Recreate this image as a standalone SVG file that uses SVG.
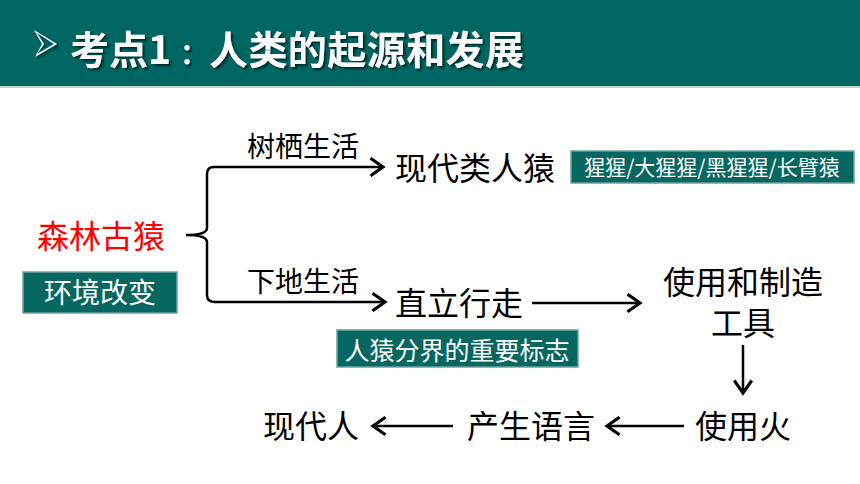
<svg xmlns="http://www.w3.org/2000/svg" width="860" height="484" viewBox="0 0 860 484">
<defs>
<style>
.t{font-family:"Noto Sans CJK SC","Liberation Sans",sans-serif;fill:#000}
.big{font-size:32px}
.lab{font-size:28px}
.w{fill:#fff}
.box{fill:#05675F;stroke:#6FA39E;stroke-width:1.5}
.ln{fill:none;stroke:#000;stroke-width:2.5}
</style>
<marker id="ah" markerUnits="userSpaceOnUse" markerWidth="20" markerHeight="20" viewBox="-12 -8 14 16" refX="0" refY="0" orient="auto">
<polyline points="-10,-7 0,0 -10,7" fill="none" stroke="#000" stroke-width="2.5" stroke-linejoin="miter"/>
</marker>
<filter id="sh" x="-5%" y="-20%" width="110%" height="140%">
<feDropShadow dx="2" dy="2" stdDeviation="0.8" flood-color="#000" flood-opacity="0.6"/>
</filter>
</defs>
<rect width="860" height="484" fill="#fff"/>
<g id="header">
<rect x="0" y="0" width="860" height="86" fill="#006662"/>
<line x1="0" y1="87" x2="860" y2="87" stroke="#A9C4C2" stroke-width="1.5"/>
<g filter="url(#sh)">
<path d="M34,30 L57,44 L35,57 L42,44 Z M37,33 L44,44 L37,54 L54,44 Z" fill="#fff" fill-rule="evenodd"/>
<text class="t w" y="64" font-size="39" font-weight="700"><tspan x="70">考点1</tspan><tspan x="180" font-size="28">：</tspan><tspan x="209" textLength="315" lengthAdjust="spacing">人类的起源和发展</tspan></text>
</g>
</g>
<g id="connectors">
<path class="ln" d="M214,167 Q207,167 207,174 L207,228 Q207,235 186,235 Q207,235 207,242 L207,295 Q207,302 215,302"/>
<line class="ln" x1="213" y1="167" x2="383" y2="167" marker-end="url(#ah)"/>
<line class="ln" x1="214" y1="302" x2="385" y2="302" marker-end="url(#ah)"/>
<line class="ln" x1="532" y1="303" x2="640" y2="303" marker-end="url(#ah)"/>
<line class="ln" x1="743" y1="345" x2="743" y2="393" marker-end="url(#ah)"/>
<line class="ln" x1="684" y1="426" x2="607" y2="426" marker-end="url(#ah)"/>
<line class="ln" x1="453" y1="426" x2="373" y2="426" marker-end="url(#ah)"/>
</g>
<g id="label-shuqi"><text class="t lab" x="247" y="157">树栖生活</text></g>
<g id="label-xiadi"><text class="t lab" x="247" y="292">下地生活</text></g>
<g id="node-senlin"><text class="t big" x="37" y="248" style="fill:#FF0000">森林古猿</text></g>
<g id="node-huanjing">
<rect class="box" x="23" y="272" width="154" height="41"/>
<text class="t w" x="100" y="303" font-size="28" text-anchor="middle">环境改变</text>
</g>
<g id="node-xiandaileiren"><text class="t big" x="395" y="180">现代类人猿</text></g>
<g id="node-xingxing">
<rect class="box" x="571" y="151" width="283" height="32"/>
<text class="t w" x="712" y="175" font-size="21" text-anchor="middle">猩猩/大猩猩/黑猩猩/长臂猿</text>
</g>
<g id="node-zhili"><text class="t big" x="395" y="315">直立行走</text></g>
<g id="node-biaozhi">
<rect class="box" x="337" y="330" width="241" height="37"/>
<text class="t w" x="457" y="360" font-size="25" text-anchor="middle">人猿分界的重要标志</text>
</g>
<g id="node-gongju">
<text class="t big" text-anchor="middle"><tspan x="743" y="294">使用和制造</tspan><tspan x="743" y="335">工具</tspan></text>
</g>
<g id="node-huo"><text class="t big" x="695" y="438">使用火</text></g>
<g id="node-yuyan"><text class="t big" x="467" y="438">产生语言</text></g>
<g id="node-xiandairen"><text class="t big" x="263" y="438">现代人</text></g>
</svg>
